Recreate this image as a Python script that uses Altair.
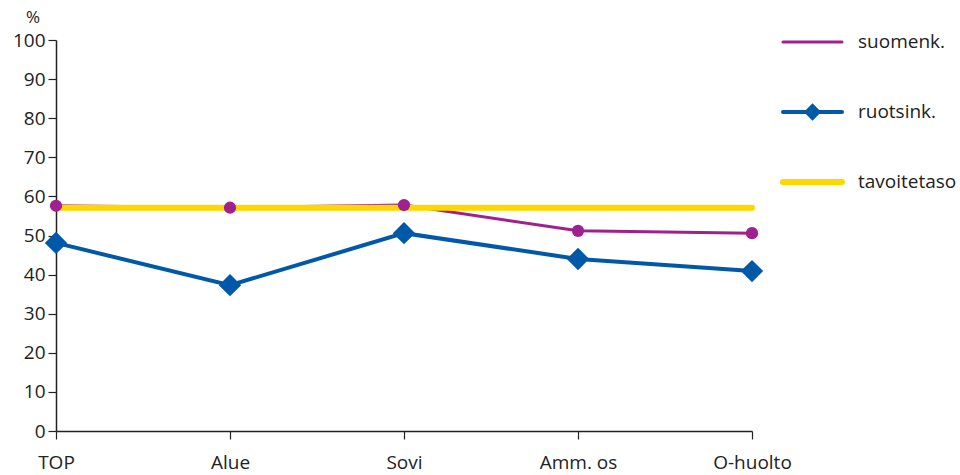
import altair as alt
import pandas as pd

categories = ["TOP", "Alue", "Sovi", "Amm. os", "O-huolto"]
suomenk = [57.6, 57.1, 57.8, 51.2, 50.6]
ruotsink = [48.1, 37.3, 50.6, 44.0, 40.9]
tavoitetaso = [57.1, 57.1, 57.1, 57.1, 57.1]
y_ticks = [0, 10, 20, 30, 40, 50, 60, 70, 80, 90, 100]

legend_labels = ["suomenk.", "ruotsink.", "tavoitetaso"]

PURPLE = "#a0208f"
BLUE = "#0058a8"
YELLOW = "#ffd700"
FONT = "Open Sans"
TXT = "#222222"

W, H = 696, 391

df = pd.DataFrame({
    "kat": categories,
    "suomenk": suomenk,
    "ruotsink": ruotsink,
    "tavoitetaso": tavoitetaso,
})

x = alt.X("kat:N", sort=categories, scale=alt.Scale(type="point", padding=0),
          axis=alt.Axis(title=None, labelAngle=0, labelPadding=14, labelOverlap=False))
yscale = alt.Scale(domain=[0, 100], nice=False)
yaxis = alt.Axis(title=None, values=y_ticks, labelPadding=3,
                 labelOverlap=False, labelBound=False)


def yenc(field):
    return alt.Y(f"{field}:Q", scale=yscale, axis=yaxis)


base = alt.Chart(df)

purple_line = base.mark_line(color=PURPLE, strokeWidth=3).encode(x=x, y=yenc("suomenk"))
yellow_line = base.mark_line(color=YELLOW, strokeWidth=6, strokeCap="round").encode(
    x=x, y=yenc("tavoitetaso"))
purple_pts = base.mark_point(shape="circle", filled=True, opacity=1, color=PURPLE,
                             size=150).encode(x=x, y=yenc("suomenk"))
blue_line = base.mark_line(color=BLUE, strokeWidth=4).encode(x=x, y=yenc("ruotsink"))
blue_pts = base.mark_point(shape="diamond", filled=True, opacity=1, color=BLUE,
                           size=500).encode(x=x, y=yenc("ruotsink"))

# "%" unit label above the y axis
unit = alt.Chart(pd.DataFrame({"t": ["%"]})).mark_text(
    fontSize=17, font=FONT, color=TXT, align="center", baseline="middle"
).encode(x=alt.value(-23), y=alt.value(-22), text="t:N")

# Legend drawn at the right of the plot
lx1, lx2, ltx = 727, 786, 802
ly = [2, 72, 142]
legend_layers = []
for lab, yy, col, sw in zip(legend_labels, ly, [PURPLE, BLUE, YELLOW], [3, 4, 6]):
    d = pd.DataFrame({"label": [lab]})
    legend_layers.append(
        alt.Chart(d).mark_rule(color=col, strokeWidth=sw, strokeCap="round").encode(
            x=alt.value(lx1), x2=alt.value(lx2), y=alt.value(yy)))
    legend_layers.append(
        alt.Chart(d).mark_text(fontSize=19, font=FONT, color=TXT, align="left",
                               baseline="middle").encode(
            x=alt.value(ltx), y=alt.value(yy), text="label:N"))
legend_layers.append(
    alt.Chart(pd.DataFrame({"label": ["ruotsink."]})).mark_point(
        shape="diamond", filled=True, opacity=1, color=BLUE, size=300).encode(
        x=alt.value((lx1 + lx2) / 2), y=alt.value(ly[1])))

chart = alt.layer(purple_line, yellow_line, purple_pts, blue_line, blue_pts, unit,
                  *legend_layers).properties(
    width=W, height=H,
    background="white",
    autosize=alt.AutoSizeParams(type="none"),
    padding={"left": 56, "top": 40, "right": 208, "bottom": 44},
).configure_view(strokeWidth=0, stroke=None).configure_axis(
    labelFont=FONT, labelFontSize=19, labelColor=TXT,
    tickSize=8, tickColor=TXT, tickWidth=1.2,
    domainColor=TXT, domainWidth=1.5, grid=False,
)

chart.save("out.html", embed_options={"renderer": "svg", "actions": False})
